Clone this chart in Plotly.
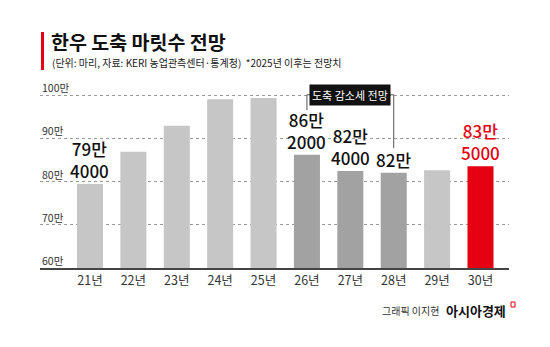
import plotly.graph_objects as go

# Hanwoo (Korean beef cattle) slaughter head counts, 2021-2030 (2025 onward projected)
years = ["21년", "22년", "23년", "24년", "25년", "26년", "27년", "28년", "29년", "30년"]
heads = [794000, 869000, 929000, 990000, 993000, 862000, 824000, 820000, 826000, 835000]
labeled = ["21년", "26년", "27년", "28년", "30년"]
decline_years = ["26년", "27년", "28년"]
highlight_year = "30년"
y_ticks = [600000, 700000, 800000, 900000, 1000000]

W, H = 550, 347
L, R, T, B = 40, 41, 80, 79
PW, PH = W - L - R, H - T - B

def px(x):
    return (x - L) / PW

def py(y):
    return (H - B - y) / PH

KR_FONT = "Noto Sans CJK KR, sans-serif"
LIGHT, DARK, RED = "#c6c6c6", "#a2a2a2", "#e50012"

colors = []
for yr in years:
    if yr == highlight_year:
        colors.append(RED)
    elif yr in decline_years:
        colors.append(DARK)
    else:
        colors.append(LIGHT)

fig = go.Figure(go.Bar(x=years, y=heads, marker=dict(color=colors, line=dict(width=0)),
                       hoverinfo="skip"))

ann = []
shapes = []

# value labels above selected bars: "NN만" over the remainder
for yr, v in zip(years, heads):
    if yr not in labeled:
        continue
    col = RED if yr == highlight_year else "#111111"
    man, rest = divmod(v, 10000)
    text = f"{man}만" + (f"<br>{rest}" if rest else "")
    ann.append(dict(x=yr, y=v, xref="x", yref="y", text=text, showarrow=False,
                    yanchor="bottom", xanchor="center", yshift=-1,
                    font=dict(family=KR_FONT, size=17, color=col, weight=500)))

# y tick labels sitting above each grid line
for t in y_ticks:
    ann.append(dict(x=0, y=t, xref="paper", yref="y", text=f"{t // 10000}만", showarrow=False,
                    xanchor="left", yanchor="bottom", yshift=-2,
                    font=dict(family=KR_FONT, size=10.5, color="#333333")))

# bracket marking the projected decline
i0, i2 = years.index(decline_years[0]), years.index(decline_years[-1])
brk_y = 1000500
line_style = dict(color="#555555", width=1)
shapes += [
    dict(type="line", xref="x", yref="y", x0=i0, x1=i2, y0=brk_y, y1=brk_y, line=line_style),
    dict(type="line", xref="x", yref="y", x0=i0, x1=i0, y0=brk_y, y1=965000, line=line_style),
    dict(type="line", xref="x", yref="y", x0=i2, x1=i2, y0=brk_y, y1=877000, line=line_style),
]
ann.append(dict(x=years.index(decline_years[1]), y=brk_y, xref="x", yref="y",
                text="도축 감소세 전망", showarrow=False, bgcolor="#111111", borderpad=2,
                font=dict(family=KR_FONT, size=11, color="white")))

# title block
shapes.append(dict(type="rect", xref="paper", yref="paper", x0=px(41), x1=px(44),
                   y0=py(70), y1=py(32), fillcolor=RED, line=dict(width=0)))
ann.append(dict(x=px(49), y=py(41), xref="paper", yref="paper", text="<b>한우 도축 마릿수 전망</b>",
                showarrow=False, xanchor="left", yanchor="middle",
                font=dict(family=KR_FONT, size=19.5, color="#111111")))
ann.append(dict(x=px(50), y=py(63), xref="paper", yref="paper",
                text="(단위: 마리, 자료: KERI 농업관측센터·통계청)  *2025년 이후는 전망치",
                showarrow=False, xanchor="left", yanchor="middle",
                font=dict(family=KR_FONT, size=10, color="#222222")))

# credit line
ann.append(dict(x=px(441), y=py(310), xref="paper", yref="paper", text="그래픽 이지현",
                showarrow=False, xanchor="right", yanchor="middle",
                font=dict(family=KR_FONT, size=10, color="#333333")))
ann.append(dict(x=px(444), y=py(310), xref="paper", yref="paper", text="<b>아시아경제</b>",
                showarrow=False, xanchor="left", yanchor="middle",
                font=dict(family=KR_FONT, size=13, color="#111111")))
shapes.append(dict(type="rect", xref="paper", yref="paper", x0=px(511), x1=px(515),
                   y0=py(307), y1=py(302), fillcolor="white", line=dict(color=RED, width=1)))

fig.update_layout(
    width=W, height=H,
    margin=dict(l=L, r=R, t=T, b=B),
    paper_bgcolor="white", plot_bgcolor="white",
    bargap=0.4, showlegend=False,
    annotations=ann, shapes=shapes,
    xaxis=dict(type="category", categoryorder="array", categoryarray=years,
               range=[-1.152, 9.657], ticks="", showgrid=False,
               showline=True, linecolor="#444444", linewidth=1.5,
               tickfont=dict(family=KR_FONT, size=12.5, color="#333333")),
    yaxis=dict(range=[600000, 1034682], tickvals=y_ticks, showticklabels=False,
               showgrid=True, gridcolor="#999999", griddash="dot", gridwidth=1,
               zeroline=False, showline=False),
)

fig.write_html("out.html")
